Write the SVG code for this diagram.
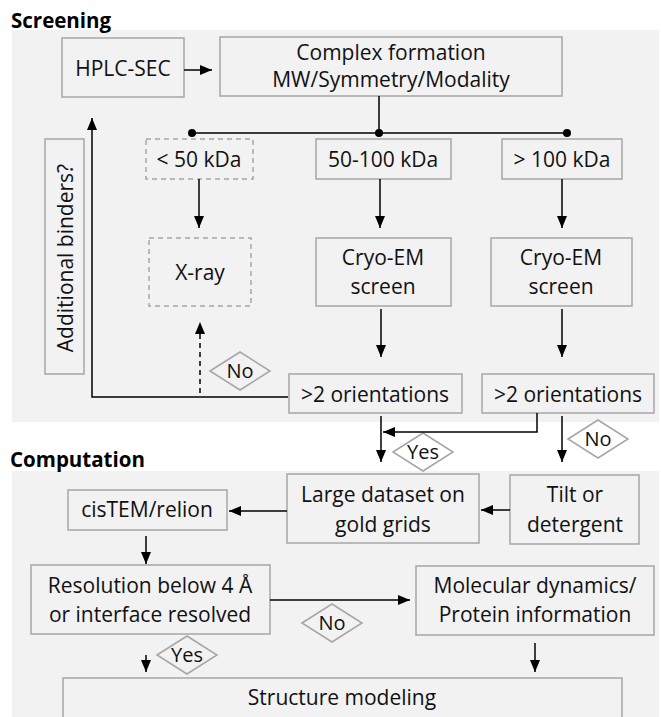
<svg xmlns="http://www.w3.org/2000/svg" width="661" height="717" viewBox="0 0 661 717">
<style>
.panel{fill:#f2f2f2;stroke:none}
.box{fill:#f2f2f2;stroke:#a6a6a6;stroke-width:1.5}
.dbox{fill:#f2f2f2;stroke:#a6a6a6;stroke-width:1.5;stroke-dasharray:5,4}
.dia{fill:none;stroke:#a6a6a6;stroke-width:1.5}
text{font-family:"Open Sans","Liberation Sans",sans-serif;font-size:21px;fill:#111;text-anchor:middle}
.title{font-weight:bold;font-size:20.5px;text-anchor:start;fill:#000}
.lbl{font-size:20px}
.c{fill:none;stroke:#000;stroke-width:1.5}
.ca{fill:none;stroke:#000;stroke-width:1.5;marker-end:url(#ah)}
</style>
<defs>
<marker id="ah" markerUnits="userSpaceOnUse" markerWidth="12" markerHeight="10" refX="12" refY="5" orient="auto">
<path d="M0,0 L12,5 L0,10 z" fill="#000"/>
</marker>
</defs>
<rect class="panel" x="12" y="30" width="647" height="392"/>
<rect class="panel" x="12" y="471" width="647" height="246"/>
<text class="title" x="11" y="28">Screening</text>
<text class="title" x="10" y="467">Computation</text>

<g id="hplc"><rect class="box" x="62" y="38" width="122" height="59"/><text x="123" y="76">HPLC-SEC</text></g>
<g id="complex"><rect class="box" x="220" y="37" width="342" height="59"/><text x="391" y="60">Complex formation</text><text x="391" y="87">MW/Symmetry/Modality</text></g>
<g id="lt50"><rect class="dbox" x="146" y="139" width="107" height="40"/><text x="199" y="167">&lt; 50 kDa</text></g>
<g id="mid"><rect class="box" x="316" y="139" width="135" height="40"/><text x="383" y="167">50-100 kDa</text></g>
<g id="gt100"><rect class="box" x="502" y="139" width="120" height="40"/><text x="562" y="167">&gt; 100 kDa</text></g>
<g id="xray"><rect class="dbox" x="149" y="238" width="102" height="68"/><text x="200" y="280">X-ray</text></g>
<g id="cryo1"><rect class="box" x="316" y="238" width="135" height="68"/><text x="383" y="265">Cryo-EM</text><text x="383" y="294">screen</text></g>
<g id="cryo2"><rect class="box" x="491" y="238" width="141" height="68"/><text x="561" y="265">Cryo-EM</text><text x="561" y="294">screen</text></g>
<g id="orient1"><rect class="box" x="289" y="374" width="173" height="39"/><text x="375" y="402">&gt;2 orientations</text></g>
<g id="orient2"><rect class="box" x="482" y="374" width="172" height="39"/><text x="568" y="402">&gt;2 orientations</text></g>
<g id="binders"><rect class="box" x="45" y="139" width="39" height="235"/><text transform="translate(73,258) rotate(-90)">Additional binders?</text></g>

<g id="large"><rect class="box" x="287" y="474" width="192" height="69"/><text x="383" y="502">Large dataset on</text><text x="383" y="532">gold grids</text></g>
<g id="tilt"><rect class="box" x="510" y="475" width="129" height="69"/><text x="575" y="502">Tilt or</text><text x="575" y="532">detergent</text></g>
<g id="cistem"><rect class="box" x="68" y="490" width="159" height="40"/><text x="147" y="517">cisTEM/relion</text></g>
<g id="resolution"><rect class="box" x="31" y="565" width="239" height="69"/><text x="150" y="593">Resolution below 4 Å</text><text x="150" y="622">or interface resolved</text></g>
<g id="md"><rect class="box" x="416" y="566" width="238" height="69"/><text x="535" y="593">Molecular dynamics/</text><text x="535" y="622">Protein information</text></g>
<g id="model"><rect class="box" x="63" y="678" width="559" height="50"/><text x="342" y="705">Structure modeling</text></g>

<g id="decisions">
<polygon class="dia" points="210,371 240,352 270,371 240,390"/><text class="lbl" x="240" y="378">No</text>
<polygon class="dia" points="393,452 423,433 453,452 423,471"/><text class="lbl" x="423" y="459">Yes</text>
<polygon class="dia" points="568,439 598,420 628,439 598,458"/><text class="lbl" x="598" y="446">No</text>
<polygon class="dia" points="302,623 332,604 362,623 332,642"/><text class="lbl" x="332" y="630">No</text>
<polygon class="dia" points="157,655 187,636 217,655 187,674"/><text class="lbl" x="187" y="662">Yes</text>
</g>

<g id="connectors">
<path class="ca" d="M184,70 H212"/>
<path class="c" d="M379,96 V133 M192,133 H567"/>
<circle cx="192" cy="133" r="4" fill="#000"/><circle cx="379" cy="133" r="4" fill="#000"/><circle cx="567" cy="133" r="4" fill="#000"/>
<path class="ca" d="M199,179 V228"/>
<path class="ca" d="M380,179 V228"/>
<path class="ca" d="M562,179 V228"/>
<path class="ca" d="M381,309 V357"/>
<path class="ca" d="M562,309 V357"/>
<path class="ca" d="M288,397 H92 V118"/>
<path class="ca" d="M200,393 V322" stroke-dasharray="5,4"/>
<path class="ca" d="M381,416 V462"/>
<path class="ca" d="M537,413 V432 H383"/>
<path class="ca" d="M562,416 V462"/>
<path class="ca" d="M510,510 H481"/>
<path class="ca" d="M287,511 H229"/>
<path class="ca" d="M146,536 V564"/>
<path class="ca" d="M270,600 H410"/>
<path class="ca" d="M146,655 V672"/>
<path class="ca" d="M535,643 V672"/>
</g>
</svg>
